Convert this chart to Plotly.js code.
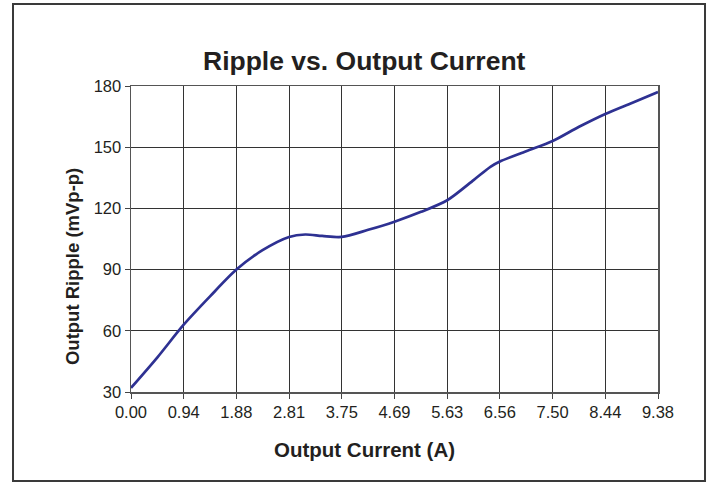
<!DOCTYPE html>
<html>
<head>
<meta charset="utf-8">
<script src="https://cdn.plot.ly/plotly-3.0.1.min.js"></script>
<style>
  html, body { margin: 0; padding: 0; background: #ffffff; }
  #chart { width: 714px; height: 483px; }
</style>
</head>
<body>
<div id="chart"></div>
<script>
// Output current (A) sample positions
const currentA = [0, 0.47, 0.9375, 1.41, 1.875, 2.34, 2.8125, 3.1, 3.4, 3.75, 4.22, 4.6875, 5.16, 5.625, 6.1, 6.4, 6.5625, 7.03, 7.5, 7.97, 8.4375, 8.91, 9.375];
// Output ripple (mVp-p)
const rippleMv = [32, 47, 63, 77, 90, 99.5, 106, 107.2, 106.5, 106, 109.5, 113.5, 118.3, 124, 134, 140.5, 143, 148, 153, 160, 166.3, 171.7, 177];
// Axis tick positions and labels
const xTickVals = [0, 0.9375, 1.875, 2.8125, 3.75, 4.6875, 5.625, 6.5625, 7.5, 8.4375, 9.375];
const xTickText = ["0.00", "0.94", "1.88", "2.81", "3.75", "4.69", "5.63", "6.56", "7.50", "8.44", "9.38"];
const yTickVals = [30, 60, 90, 120, 150, 180];

const textColor = "#231f20";
const fontFamily = "'Liberation Sans', Arial, Helvetica, sans-serif";

const trace = {
  x: currentA,
  y: rippleMv,
  type: "scatter",
  mode: "lines",
  line: { color: "#2e3192", width: 2.7, shape: "spline", smoothing: 0.8 },
  hoverinfo: "skip",
  showlegend: false
};

const layout = {
  width: 714,
  height: 483,
  margin: { l: 131, r: 56, t: 86, b: 91, pad: 0 },
  paper_bgcolor: "#ffffff",
  plot_bgcolor: "#ffffff",
  font: { family: fontFamily, color: textColor, size: 16.5 },
  showlegend: false,
  xaxis: {
    range: [0, 9.375],
    tickmode: "array",
    tickvals: xTickVals,
    ticktext: xTickText,
    ticks: "outside",
    ticklen: 5,
    tickwidth: 1,
    tickcolor: "#444",
    showgrid: true,
    gridcolor: "#333",
    gridwidth: 1,
    showline: true,
    linecolor: "#555",
    linewidth: 1.5,
    mirror: true,
    zeroline: false,
    tickfont: { size: 16.5, color: textColor, family: fontFamily },
    fixedrange: true
  },
  yaxis: {
    range: [30, 180],
    tickmode: "array",
    tickvals: yTickVals,
    ticks: "outside",
    ticklen: 5,
    tickwidth: 1,
    tickcolor: "#444",
    showgrid: true,
    gridcolor: "#333",
    gridwidth: 1,
    showline: true,
    linecolor: "#555",
    linewidth: 1.5,
    mirror: true,
    zeroline: false,
    tickfont: { size: 16.5, color: textColor, family: fontFamily },
    fixedrange: true
  },
  annotations: [
    {
      text: "<b>Ripple vs. Output Current</b>",
      xref: "paper", yref: "paper",
      x: 0.443, y: 1.0817,
      xanchor: "center", yanchor: "middle",
      showarrow: false,
      font: { size: 26.5, color: textColor, family: fontFamily }
    },
    {
      text: "<b>Output Current (A)</b>",
      xref: "paper", yref: "paper",
      x: 0.443, y: -0.1895,
      xanchor: "center", yanchor: "middle",
      showarrow: false,
      font: { size: 20.5, color: textColor, family: fontFamily }
    },
    {
      text: "<b>Output Ripple (mVp-p)</b>",
      xref: "paper", yref: "paper",
      x: -0.110, y: 0.4085,
      xanchor: "center", yanchor: "middle",
      textangle: -90,
      showarrow: false,
      font: { size: 18.5, color: textColor, family: fontFamily }
    }
  ],
  shapes: [
    {
      type: "rect",
      xref: "paper", yref: "paper",
      x0: -0.2239, x1: 1.0892, y0: -0.2908, y1: 1.268,
      line: { color: "#3a3a3a", width: 2 },
      fillcolor: "rgba(0,0,0,0)",
      layer: "below"
    }
  ]
};

Plotly.newPlot("chart", [trace], layout, { displayModeBar: false, staticPlot: true });
</script>
</body>
</html>
